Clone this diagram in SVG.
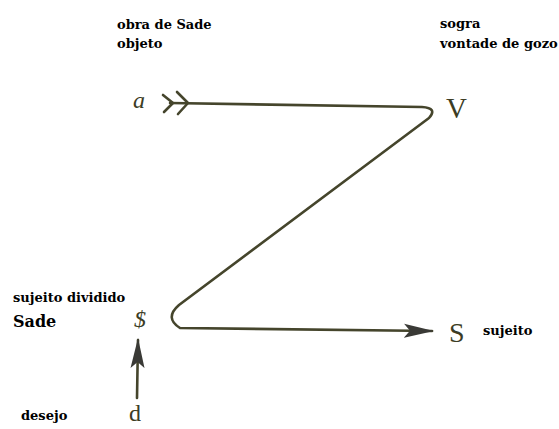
<svg xmlns="http://www.w3.org/2000/svg" width="559" height="429" viewBox="0 0 559 429">
<style>
.lbl{font-family:"DejaVu Serif","Liberation Serif",serif;font-weight:bold;font-size:13px;fill:#000}
.sym{font-family:"Liberation Serif","Times New Roman",serif;fill:#3c3c24}
.ln{fill:none;stroke:#45452c;stroke-width:2.6;stroke-linecap:round;stroke-linejoin:round}
</style>
<defs>
<marker id="ah" viewBox="0 0 30 16" refX="28" refY="8" markerWidth="30" markerHeight="16" markerUnits="userSpaceOnUse" orient="auto">
<path d="M0,1 L30,8 L0,15 L6,8 Z" fill="#3a3a36"/>
</marker>
</defs>
<rect width="559" height="429" fill="#fff"/>
<g id="labels">
<text class="lbl" x="117" y="29">obra de Sade</text>
<text class="lbl" x="117" y="48">objeto</text>
<text class="lbl" x="440" y="28">sogra</text>
<text class="lbl" x="440" y="48">vontade de gozo</text>
<text class="lbl" x="13" y="302">sujeito dividido</text>
<text class="lbl" x="13" y="327" style="font-size:16px">Sade</text>
<text class="lbl" x="483" y="335">sujeito</text>
<text class="lbl" x="21" y="420">desejo</text>
</g>
<g id="node-a">
<text class="sym" x="133" y="108" font-size="24" font-style="italic">a</text>
</g>
<g id="node-V">
<text class="sym" x="446" y="118" font-size="29">V</text>
</g>
<g id="node-barS">
<text class="sym" x="134" y="327" font-size="24" font-style="italic">$</text>
</g>
<g id="node-S">
<text class="sym" x="449" y="342" font-size="28">S</text>
</g>
<g id="node-d">
<text class="sym" x="129" y="421" font-size="24">d</text>
</g>
<g id="connectors">
<path class="ln" d="M163,95 L173,103 L164,112" stroke-width="3.4"/>
<path class="ln" d="M177,92 L188,103 L178,114" stroke-width="3.6"/>
<path class="ln" d="M170,103 L422,107 Q438,108 429,118 L179,305 Q164,318 180,328 L432,331" marker-end="url(#ah)"/>
<path class="ln" d="M137,398 L138,340" marker-end="url(#ah)"/>
</g>
</svg>
